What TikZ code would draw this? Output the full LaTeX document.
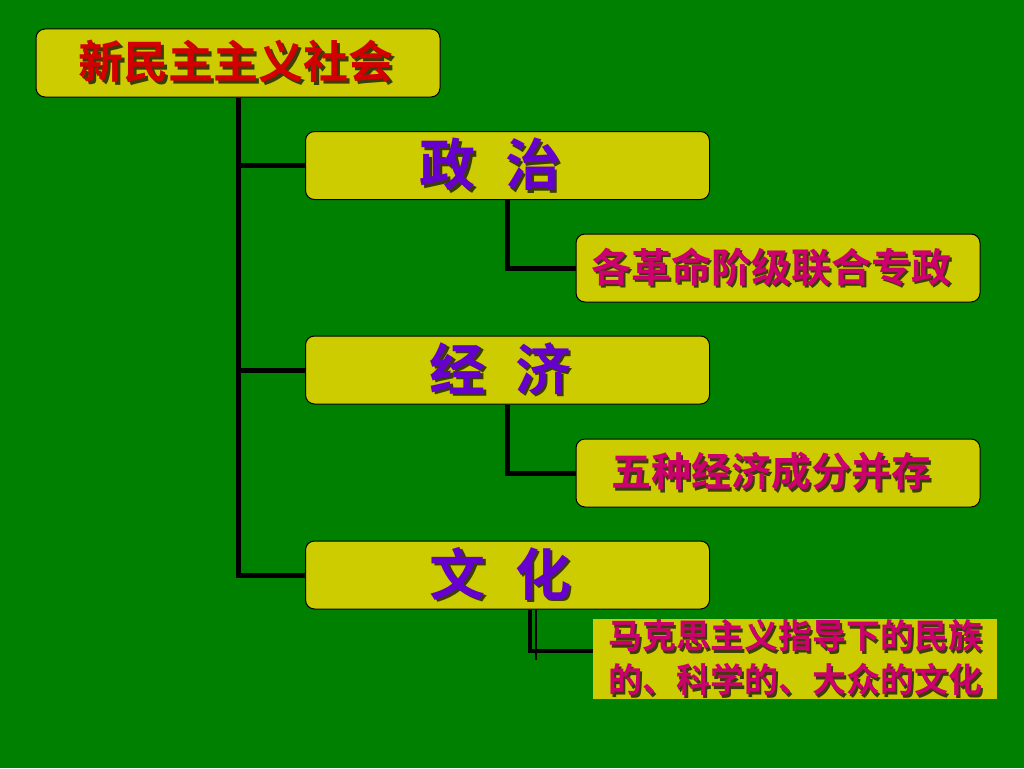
\documentclass[tikz,border=0pt]{standalone}
\usepackage{fontspec}
\newfontfamily\cjk{Noto Sans CJK SC}[BoldFont={Noto Sans CJK SC Bold}]
\usepackage{tikz}

\definecolor{bggreen}{RGB}{0,128,0}
\definecolor{boxyellow}{RGB}{204,204,0}
\definecolor{titlered}{RGB}{210,0,0}
\definecolor{headpurple}{RGB}{102,0,204}
\definecolor{submagenta}{RGB}{204,0,110}
\definecolor{shade}{RGB}{60,60,10}

\newcommand\shtxt[2]{\rlap{\kern2.5pt\raisebox{-2.5pt}{\color{shade}#2}}{\color{#1}#2}}

\tikzset{
  box/.style={draw=black, line width=1pt, fill=boxyellow, rounded corners=9pt,
    minimum width=404pt, minimum height=68pt, inner sep=0pt, font=\cjk\bfseries},
  link/.style={line width=5pt, draw=black}
}

\begin{document}
\begin{tikzpicture}[x=1pt, y=-1pt]
  \useasboundingbox (0,0) rectangle (1024,768);
  \fill[bggreen] (0,0) rectangle (1024,768);

  \node[box] (soc) at (238,63)
    {\fontsize{45}{50}\selectfont\shtxt{titlered}{新民主主义社会}\kern4pt};

  \node[box] (pol) at (507.5,165.5)
    {\fontsize{56}{60}\selectfont\raisebox{-3pt}{\shtxt{headpurple}{政\hspace{30pt}治}}\kern34pt};
  \node[box] (polsub) at (778,268)
    {\fontsize{40}{44}\selectfont\shtxt{submagenta}{各革命阶级联合专政}\kern14pt};

  \node[box] (eco) at (507.5,370)
    {\fontsize{56}{60}\selectfont\raisebox{-3pt}{\shtxt{headpurple}{经\hspace{30pt}济}}\kern14pt};
  \node[box] (ecosub) at (778,473)
    {\fontsize{40}{44}\selectfont\shtxt{submagenta}{五种经济成分并存}\kern14pt};

  \node[box] (cul) at (507.5,575)
    {\fontsize{56}{60}\selectfont\raisebox{-3pt}{\shtxt{headpurple}{文\hspace{30pt}化}}\kern14pt};
  \node[box, draw=none, rounded corners=0pt, minimum height=80pt, align=center,
        font=\cjk\bfseries\fontsize{34}{44}\selectfont] (culsub) at (795,659)
    {\shtxt{submagenta}{马克思主义指导下的民族}\\
     \shtxt{submagenta}{的、科学的、大众的文化}};

  \draw[link] (soc.south) |- (cul.west);
  \draw[link] (soc.south |- pol.west) -- (pol.west);
  \draw[link] (soc.south |- eco.west) -- (eco.west);

  \draw[link] (pol.south) |- (polsub.west);
  \draw[link] (eco.south) |- (ecosub.west);
  \draw[link, line width=4pt] ([xshift=22pt]cul.south) |- ([yshift=8pt]culsub.west);
  \draw[line width=2pt] ([xshift=28pt]cul.south) -- ++(0,50);

\end{tikzpicture}
\end{document}
